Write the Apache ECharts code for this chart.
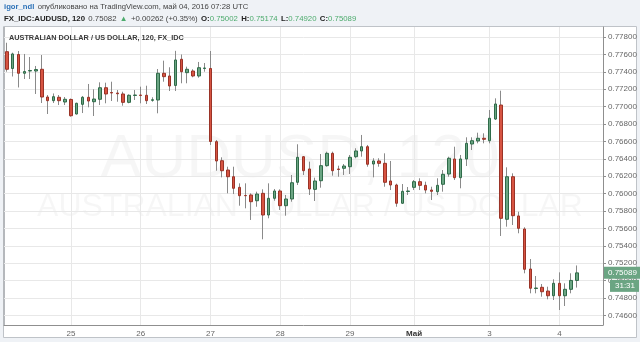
<!DOCTYPE html>
<html><head><meta charset="utf-8">
<script src="https://cdn.jsdelivr.net/npm/echarts@6/dist/echarts.min.js"></script>
<style>html,body{margin:0;padding:0;background:#eff2f6;}#c{width:640px;height:342px;}</style>
</head><body><div id="c"></div>
<script>
// 2-hour sessions (UTC), day blocks with first/last candle hour
const sessionDays      = ['04-22','04-24','04-25','04-26','04-27','04-28','04-29','05-01','05-02','05-03','05-04'];
const sessionFirstHour = [2, 22, 0, 0, 0, 0, 0, 22, 0, 0, 0];
const sessionLastHour  = [20, 22, 22, 22, 22, 22, 20, 22, 22, 22, 14];
const categories = [];
sessionDays.forEach((d, k) => {
  for (let h = sessionFirstHour[k]; h <= sessionLastHour[k]; h += 2) categories.push(d + ' ' + String(h).padStart(2, '0') + ':00');
});

const open = [0.77631,0.77438,0.77599,0.77383,0.77409,0.77409,0.77429,0.77110,0.77068,0.77107,
0.77053,0.77082,0.76915,0.77026,0.77107,0.77056,0.77084,0.77217,0.77162,0.77156,
0.77145,0.77049,0.77128,0.77133,0.77130,0.77072,0.77076,0.77383,0.77352,0.77243,
0.77544,0.77390,0.77409,0.77352,0.77438,0.77438,0.76597,0.76378,0.76271,0.76194,
0.76072,0.75978,0.75984,0.75918,0.76003,0.75754,0.75946,0.76030,0.75861,0.75938,
0.76130,0.76424,0.76283,0.76049,0.76148,0.76321,0.76463,0.76283,0.76291,0.76309,
0.76424,0.76490,0.76539,0.76340,0.76375,0.76348,0.76145,0.76099,0.75889,0.76024,
0.76072,0.76137,0.76095,0.76041,0.76022,0.76107,0.76225,0.76398,0.76183,0.76398,
0.76570,0.76605,0.76636,0.76608,0.76857,0.77018,0.75705,0.76194,0.75743,0.75593,
0.75133,0.74909,0.74923,0.74880,0.74826,0.74969,0.74826,0.74900,0.75002];
const close = [0.77429,0.77605,0.77383,0.77403,0.77415,0.77426,0.77110,0.77068,0.77114,0.77068,
0.77084,0.76895,0.77038,0.77107,0.77064,0.77087,0.77217,0.77145,0.77156,0.77148,
0.77049,0.77130,0.77133,0.77128,0.77068,0.77079,0.77383,0.77344,0.77237,0.77536,
0.77401,0.77429,0.77352,0.77447,0.77444,0.76599,0.76375,0.76263,0.76194,0.76061,
0.75976,0.75976,0.75907,0.75995,0.75754,0.75946,0.76030,0.75861,0.75938,0.76125,
0.76417,0.76263,0.76053,0.76145,0.76321,0.76463,0.76263,0.76277,0.76317,0.76417,
0.76490,0.76539,0.76337,0.76375,0.76348,0.76130,0.76099,0.75889,0.76026,0.76030,
0.76137,0.76095,0.76041,0.76026,0.76095,0.76222,0.76406,0.76183,0.76398,0.76578,
0.76608,0.76636,0.76624,0.76866,0.77030,0.75716,0.76194,0.75746,0.75601,0.75130,
0.74912,0.74915,0.74872,0.74826,0.74969,0.74826,0.74900,0.75002,0.75089];
const low = [0.77401,0.77346,0.77220,0.77317,0.77317,0.77145,0.77041,0.76915,0.77041,0.77018,
0.77018,0.76884,0.76909,0.76926,0.76992,0.76892,0.77018,0.77038,0.77064,0.77056,
0.77010,0.77038,0.77076,0.77038,0.77030,0.77056,0.76923,0.77286,0.77179,0.77179,
0.77268,0.77268,0.77337,0.77332,0.77401,0.76559,0.76263,0.76187,0.76003,0.75995,
0.75861,0.75831,0.75697,0.75849,0.75475,0.75716,0.75918,0.75812,0.75746,0.75907,
0.76099,0.76214,0.75984,0.75915,0.76068,0.76309,0.76206,0.76194,0.76214,0.76225,
0.76406,0.76424,0.76309,0.76187,0.76309,0.76079,0.76041,0.75849,0.75880,0.75984,
0.76041,0.76041,0.76003,0.75926,0.75984,0.76022,0.76194,0.76156,0.76061,0.76317,
0.76501,0.76578,0.76578,0.76578,0.76846,0.75513,0.75620,0.75639,0.75544,0.75084,
0.74854,0.74854,0.74815,0.74785,0.74777,0.74662,0.74708,0.74854,0.74920];
const high = [0.77734,0.77620,0.77639,0.77605,0.77570,0.77467,0.77593,0.77133,0.77151,0.77133,
0.77110,0.77093,0.77045,0.77122,0.77260,0.77199,0.77279,0.77275,0.77286,0.77191,
0.77171,0.77141,0.77191,0.77229,0.77240,0.77107,0.77432,0.77528,0.77452,0.77641,
0.77599,0.77459,0.77429,0.77513,0.77501,0.77639,0.76616,0.76417,0.76309,0.76309,
0.76118,0.76118,0.76003,0.76022,0.76049,0.76118,0.76053,0.76049,0.75984,0.76214,
0.76567,0.76432,0.76367,0.76183,0.76455,0.76482,0.76482,0.76321,0.76340,0.76444,
0.76521,0.76674,0.76559,0.76406,0.76406,0.76463,0.76375,0.76114,0.76110,0.76076,
0.76156,0.76176,0.76137,0.76079,0.76176,0.76271,0.76424,0.76539,0.76444,0.76647,
0.76647,0.76700,0.76693,0.76961,0.77095,0.77183,0.76302,0.76233,0.75792,0.75613,
0.75248,0.75053,0.74961,0.74930,0.75015,0.75095,0.74969,0.75084,0.75174];

const yTicks = [0.746,0.748,0.750,0.752,0.754,0.756,0.758,0.760,0.762,0.764,0.766,0.768,0.770,0.772,0.774,0.776,0.778];
const dayTickTimes = ['04-25 00:00','04-26 00:00','04-27 00:00','04-28 00:00','04-29 00:00','05-01 22:00','05-03 00:00','05-04 00:00'];
const dayTickText  = ['25','26','27','28','29','Май','3','4'];
const timerText = '31:31';

const FONT = '"Liberation Sans", Arial, sans-serif';
const UP = '#6ba583', DOWN = '#d75442';
const labelMap = {};
dayTickTimes.forEach((t, i) => labelMap[t] = dayTickText[i]);

const wickData = open.map((o, i) => [o, close[i], low[i], high[i]]);
const bodyData = open.map((o, i) => [o, close[i], Math.min(o, close[i]), Math.max(o, close[i])]);
const lastClose = close[close.length - 1];

const chart = echarts.init(document.getElementById('c'));
const baseGraphic = [
  { id: 'box', type: 'rect', z: -20, shape: { x: 3.5, y: 26.5, width: 633, height: 311 }, style: { fill: '#ffffff', stroke: '#bfc3c8', lineWidth: 1 } },
  { id: 'lb', type: 'rect', z: -19, shape: { x: 3, y: 27, width: 2, height: 298 }, style: { fill: '#b5b8bc' } },
  { id: 'wm1', type: 'text', z: -15, x: 300, y: 160, style: { text: 'AUDUSD, 120', fill: 'rgba(0,0,0,0.035)', font: '62px ' + FONT, align: 'center', verticalAlign: 'middle' } },
  { id: 'wm2', type: 'text', z: -15, x: 310, y: 207, style: { text: 'AUSTRALIAN DOLLAR / US DOLLAR', fill: 'rgba(0,0,0,0.035)', font: '32px ' + FONT, align: 'center', verticalAlign: 'middle' } },
  { id: 'title', type: 'text', z: 10, x: 9, y: 38, style: { text: 'AUSTRALIAN DOLLAR / US DOLLAR, 120, FX_IDC', fill: '#3a3a3a', font: 'bold 7.3px ' + FONT, verticalAlign: 'middle' } },
  { id: 'h1', type: 'text', z: 10, x: 4, y: 7, style: {
    text: '{u|igor_ndl} {t|опубликовано на TradingView.com, май 04, 2016 07:28 UTC}', verticalAlign: 'middle',
    rich: { u: { fill: '#2d72b8', font: 'bold 7.7px ' + FONT }, t: { fill: '#444', font: '7.7px ' + FONT } } } },
  { id: 'h2', type: 'text', z: 10, x: 4, y: 19, style: {
    text: '{b|FX_IDC:AUDUSD, 120} {n|0.75082} {g|▲} {n|+0.00262 (+0.35%)} {b|O:}{g|0.75002} {b|H:}{g|0.75174} {b|L:}{g|0.74920} {b|C:}{g|0.75089}', verticalAlign: 'middle',
    rich: { b: { fill: '#222', font: 'bold 7.8px ' + FONT }, n: { fill: '#444', font: '7.8px ' + FONT }, g: { fill: '#4dab6d', font: '7.8px ' + FONT } } } }
];

chart.setOption({
  animation: false,
  backgroundColor: '#eff2f6',
  textStyle: { fontFamily: FONT },
  grid: { left: 4, right: 37, top: 27, bottom: 17 },
  xAxis: {
    type: 'category', data: categories, boundaryGap: true,
    axisLine: { lineStyle: { color: '#8f8f8f' } },
    axisTick: { show: false },
    splitLine: { show: false },
    axisLabel: {
      interval: 0, hideOverlap: false, color: '#666', fontSize: 8, margin: 5, fontFamily: FONT,
      formatter: v => { const t = labelMap[v]; if (!t) return ''; return isNaN(+t) ? '{m|' + t + '}' : t; },
      rich: { m: { fontWeight: 'bold', color: '#333', fontSize: 8, fontFamily: FONT } }
    }
  },
  yAxis: {
    type: 'value', position: 'right', scale: true, min: 0.744897, max: 0.779149,
    axisLine: { show: true, lineStyle: { color: '#8f8f8f' } },
    axisTick: { show: true, length: 3, customValues: yTicks, lineStyle: { color: '#8f8f8f' } },
    axisLabel: { customValues: yTicks, formatter: v => v.toFixed(5), color: '#666', fontSize: 8, margin: 5, fontFamily: FONT },
    splitLine: { show: true, lineStyle: { color: '#e8e8e8' } }
  },
  series: [
    {
      type: 'candlestick', name: 'wick', z: 2, data: wickData, barWidth: 1,
      itemStyle: { color: '#8a8a8a', color0: '#8a8a8a', borderColor: '#8a8a8a', borderColor0: '#8a8a8a', borderWidth: 1 },
      markLine: {
        z: 1, silent: true, symbol: 'none', animation: false,
        label: { show: false },
        lineStyle: { color: '#e8e8e8', type: 'solid', width: 1 },
        data: dayTickTimes.map(t => ({ xAxis: t }))
      }
    },
    {
      type: 'candlestick', name: 'body', z: 3, data: bodyData, barWidth: 3,
      itemStyle: { color: UP, color0: DOWN, borderColor: '#2f6b49', borderColor0: '#9a3327', borderWidth: 1 }
    }
  ],
  graphic: baseGraphic
});

// last-price tag and bar timer placed through the y scale
const py = chart.convertToPixel({ yAxisIndex: 0 }, lastClose);
chart.setOption({
  graphic: baseGraphic.concat([
    { id: 'price', type: 'text', z: 20, x: 604, y: py, style: { text: lastClose.toFixed(5), fill: '#fff', backgroundColor: UP, padding: [2, 5, 2, 4], font: '8px ' + FONT, verticalAlign: 'middle' } },
    { id: 'timer', type: 'text', z: 20, x: 610, y: py + 7, style: { text: timerText, fill: '#fff', backgroundColor: UP, padding: [2, 4, 2, 5], font: '8px ' + FONT, verticalAlign: 'top' } }
  ])
});
</script></body></html>
